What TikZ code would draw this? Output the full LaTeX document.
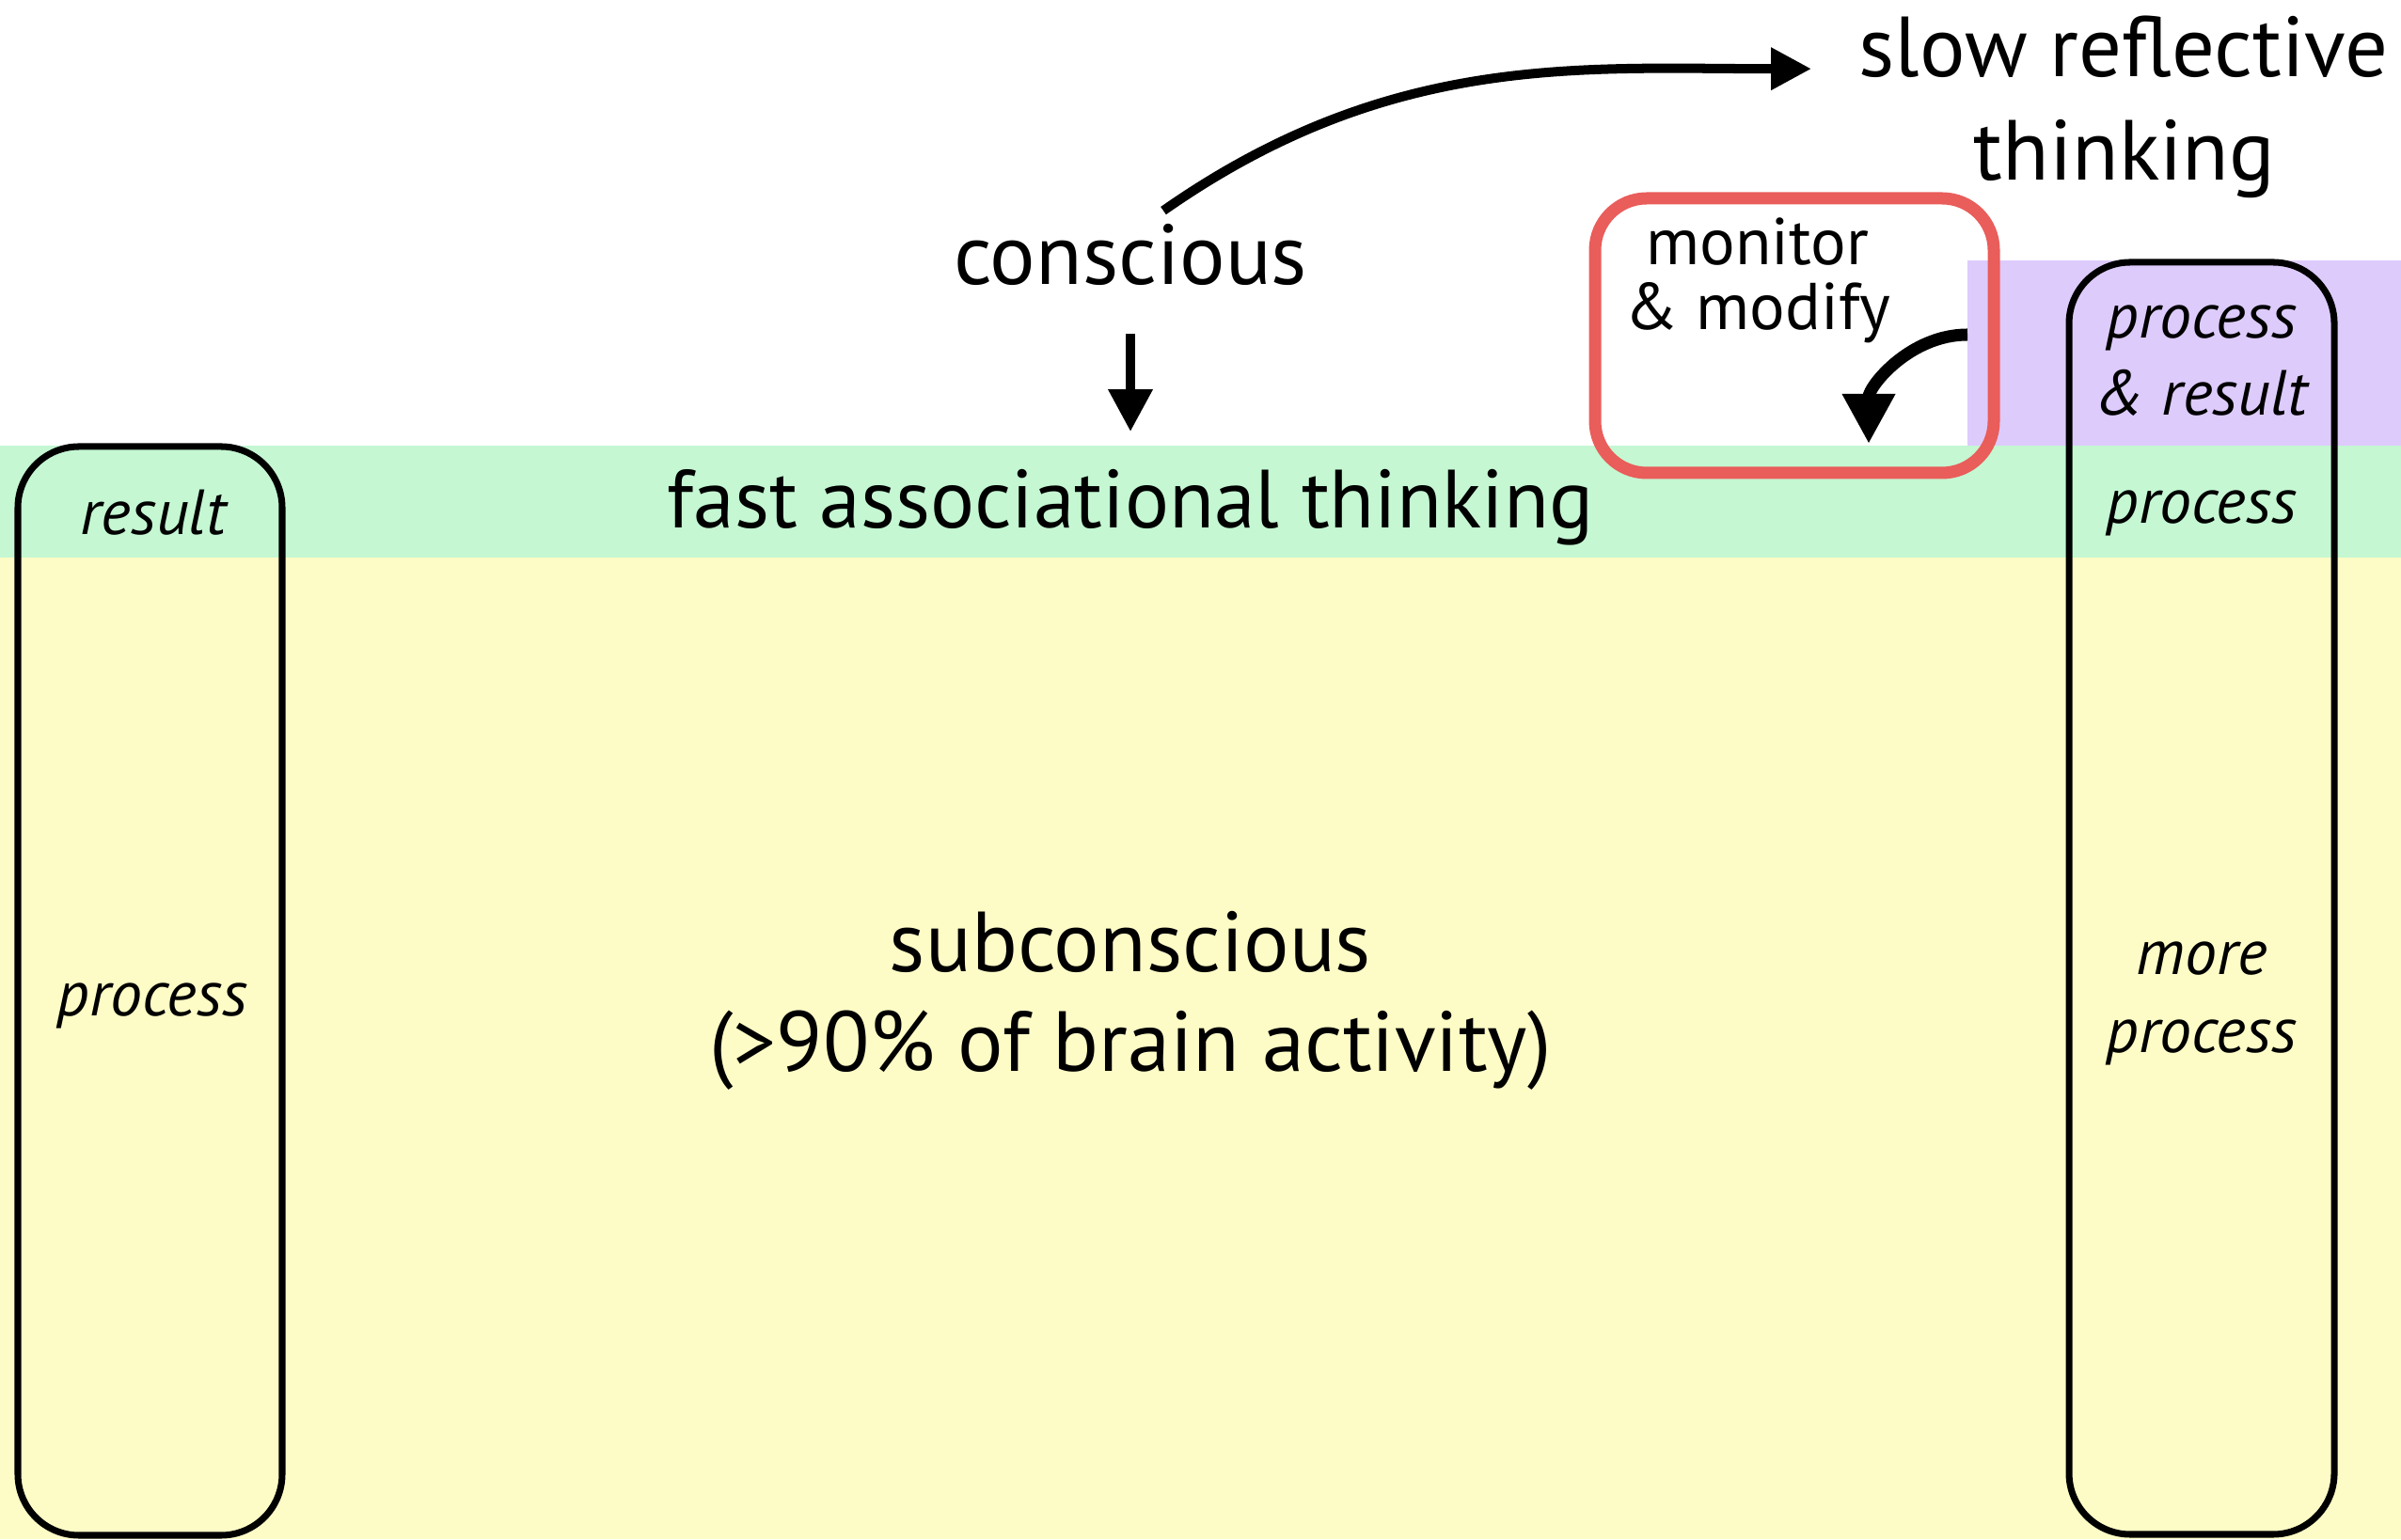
\documentclass[tikz,border=0pt]{standalone}
\usepackage{fontspec}
\setmainfont{PT Sans}
\usepackage{xcolor}
\usetikzlibrary{arrows.meta,positioning}
\definecolor{fastgreen}{RGB}{196,247,210}
\definecolor{subyellow}{RGB}{254,252,198}
\definecolor{slowpurple}{RGB}{221,203,252}
\definecolor{monred}{RGB}{233,93,90}

\begin{document}
\begin{tikzpicture}[x=1cm,y=1cm,
  pill/.style={line width=2pt,rounded corners=0.65cm},
  bigtxt/.style={font=\fontsize{25.8}{30}\selectfont,inner sep=0pt,anchor=base},
  itl/.style={font=\fontsize{19.3}{23}\selectfont\itshape,inner sep=0pt,anchor=base},
  midtxt/.style={font=\fontsize{20}{24}\selectfont,inner sep=0pt,anchor=base}]
  \useasboundingbox (0,0) rectangle (25.53,16.37);
  % bands
  \fill[subyellow] (0,0) rectangle (25.53,10.44);
  \fill[fastgreen] (0,10.44) rectangle (25.53,11.63);
  \fill[slowpurple] (20.92,11.63) rectangle (25.53,13.60);
  % pills
  \draw[pill] (0.19,0.04) rectangle (3.00,11.62);
  \draw[pill] (22.00,0.05) rectangle (24.82,13.58);
  % texts
  \node[bigtxt] (conscious) at (12.02,13.34) {conscious};
  \node[bigtxt] (slow) at (22.58,15.55) {slow reflective};
  \node[bigtxt] (slowb) at (22.59,14.45) {thinking};
  \node[bigtxt,font=\fontsize{25}{30}\selectfont] (fast) at (12.02,10.75) {fast associational thinking};
  \node[bigtxt] (sub) at (12.02,6.03) {subconscious};
  \node[bigtxt] (subb) at (12.02,4.97) {(>90\% of brain activity)};
  \node[itl] (lres) at (1.63,10.68) {result};
  \node[itl] (lproc) at (1.62,5.56) {process};
  \node[itl] (rproc) at (23.41,12.77) {process};
  \node[itl] (rres) at (23.41,11.95) {\& result};
  \node[itl] (rfast) at (23.41,10.80) {process};
  \node[itl] (rmore) at (23.41,6.00) {more};
  \node[itl] (rmoreb) at (23.41,5.17) {process};
  \node[midtxt] (mon) at (18.69,13.55) {monitor};
  \node[midtxt] (monb) at (18.69,12.86) {\& modify};
  % monitor box
  \draw[monred,line width=3.7pt,rounded corners=0.55cm] (16.96,11.34) rectangle (21.20,14.26);
  % arrows
  \draw[line width=2.85pt,-{Triangle[length=0.45cm,width=0.45cm]},shorten <=0.5cm,shorten >=0.4cm]
    (conscious.south) -- (fast.north);
  \draw[line width=2.85pt,-{Triangle[length=0.43cm,width=0.43cm]},shorten >=0.5cm]
    ([xshift=0.35cm,yshift=0.14cm]conscious.north) to[out=35,in=180] (slow.mid west);
  \coordinate (mmfrom) at (20.92,12.81);
  \coordinate (mmto) at (19.87,11.65);
  \draw[line width=3.7pt,-{Triangle[length=0.53cm,width=0.53cm]}]
    (mmfrom) to[out=180,in=90] (mmto);
\end{tikzpicture}
\end{document}
